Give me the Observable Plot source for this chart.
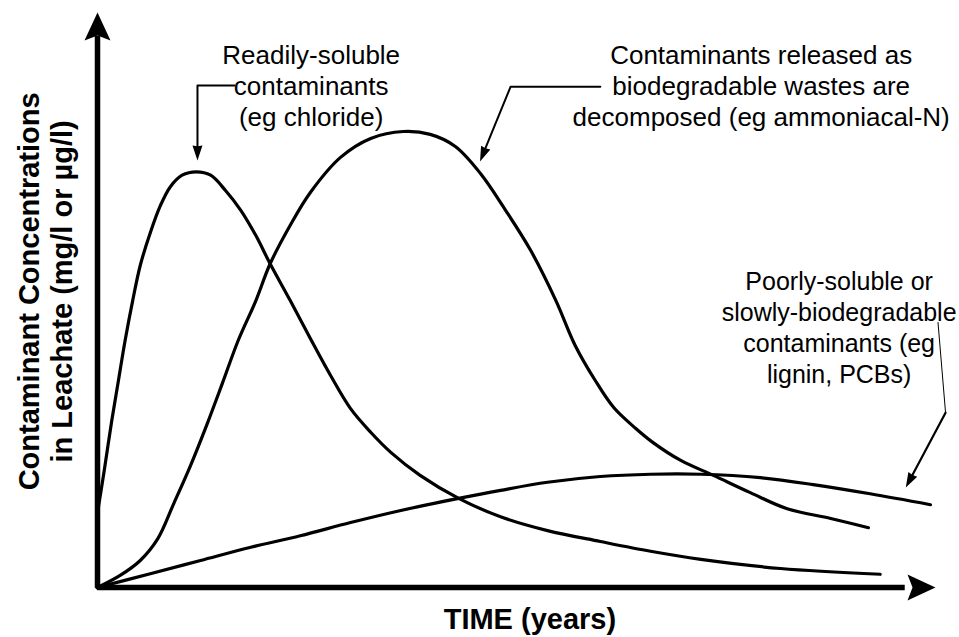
<!DOCTYPE html>
<html>
<head>
<meta charset="utf-8">
<script src="https://cdn.jsdelivr.net/npm/d3@7"></script>
<script src="https://cdn.jsdelivr.net/npm/@observablehq/plot@0.6"></script>
<style>
  html, body { margin: 0; padding: 0; background: #ffffff; }
  #chart svg { display: block; }
</style>
</head>
<body>
<div id="chart"></div>
<script>
// ---- Data (time and concentration in arbitrary units, 0–100) ----
const seriesNames = ["chloride", "ammoniacal", "lignin"];

const timeChloride = [0, 0.8, 1.7, 2.5, 3.3, 4.2, 5.1, 6.3, 7.5, 8.7, 10.1, 11.8, 13.5, 15.3, 17.1, 18.9, 20.6, 23.0, 25.4, 27.8, 30.2, 32.6, 35.0, 38.5, 43.1, 48.1, 53.7, 60.0, 66.0, 72.0, 81.5, 93.4];
const concChloride = [13.0, 20.3, 29.0, 36.0, 43.0, 49.9, 56.0, 61.7, 66.4, 69.7, 71.7, 72.3, 71.7, 69.0, 65.6, 61.2, 56.3, 49.9, 43.3, 36.9, 31.1, 27.0, 23.5, 19.5, 15.5, 12.3, 9.9, 8.0, 6.3, 4.9, 3.3, 2.3];

const timeAmmoniacal = [0, 2.7, 5.1, 7.2, 9.1, 11.1, 13.1, 14.9, 16.8, 18.9, 20.6, 23.0, 25.4, 29.0, 32.6, 36.5, 39.7, 42.7, 45.7, 48.7, 51.7, 54.7, 57.0, 59.4, 61.6, 64.2, 66.3, 69.6, 73.5, 77.9, 82.3, 87.5, 92.0];
const concAmmoniacal = [0, 2.1, 4.7, 8.5, 14.6, 21.2, 28.5, 35.5, 43.0, 49.9, 56.3, 63.0, 68.7, 74.8, 78.1, 79.3, 78.8, 76.7, 72.0, 65.6, 58.6, 49.9, 42.1, 36.0, 31.3, 27.7, 25.2, 22.1, 19.5, 16.5, 13.7, 12.0, 10.4];

const timeLignin = [0, 6.3, 12.3, 18.3, 24.2, 30.2, 36.2, 43.1, 48.1, 53.7, 60.0, 66.0, 72.0, 79.1, 85.4, 92.2, 99.4];
const concLignin = [0, 2.4, 4.7, 7.0, 9.0, 11.3, 13.4, 15.5, 16.9, 18.3, 19.3, 19.7, 19.7, 19.1, 17.9, 16.3, 14.4];

// ---- Text ----
const labelChloride = "Readily-soluble\ncontaminants\n(eg chloride)";
const labelAmmoniacal = "Contaminants released as\nbiodegradable wastes are\ndecomposed (eg ammoniacal-N)";
const labelLignin = "Poorly-soluble or\nslowly-biodegradable\ncontaminants (eg\nlignin, PCBs)";
const xTitle = "TIME (years)";
const yTitle = "Contaminant Concentrations\nin Leachate (mg/l or µg/l)";

// ---- Annotation anchors (data units) ----
const annTextX = [25.5, 79.2];
const annTextY = [94.9, 94.9];
const ligninTextX = 88.5, ligninTextY = 55.6;
const leaderChlorideX = [16.35, 11.93, 11.93];
const leaderChlorideY = [87.3, 87.3, 76.0];
const leaderAmmoniacalX = [60.0, 49.3, 46.1];
const leaderAmmoniacalY = [87.1, 87.1, 75.7];
const leaderLigninThinX = [100.3, 101.2];
const leaderLigninThinY = [46.1, 30.4];
const leaderLigninX = [101.2, 96.9];
const leaderLigninY = [30.4, 18.6];

// ---- Build tables ----
const W = 959, H = 637, mL = 97, mR = 24, mT = 12, mB = 50;
const kx = (W - mL - mR) / 100, ky = (H - mT - mB) / 100;

const curves = [
  [timeChloride, concChloride],
  [timeAmmoniacal, concAmmoniacal],
  [timeLignin, concLignin]
].flatMap(([t, c], i) => t.map((tt, j) => ({name: seriesNames[i], t: tt, c: c[j]})));

const pts = (xs, ys) => xs.map((x, i) => ({x, y: ys[i]}));
const dirDeg = (a, b) => Math.atan2((b.x - a.x) * kx, (b.y - a.y) * ky) * 180 / Math.PI;

const axisPath = pts([0, 0, 96], [95.5, 0, 0]);
const axisHeads = [{x: 0, y: 100, rot: 0}, {x: 100, y: 0, rot: 90}];

const lc = pts(leaderChlorideX, leaderChlorideY);
const la = pts(leaderAmmoniacalX, leaderAmmoniacalY);
const llThin = pts(leaderLigninThinX, leaderLigninThinY);
const ll = pts(leaderLigninX, leaderLigninY);

function tip(a, b, px) {
  const sx = (b.x - a.x) * kx, sy = (b.y - a.y) * ky;
  const L = Math.hypot(sx, sy);
  return {x: b.x + sx / L * px / kx, y: b.y + sy / L * px / ky, rot: dirDeg(a, b)};
}
const leaderHeads = [
  tip(lc[1], lc[2], 10),
  tip(la[1], la[2], 10),
  tip(ll[0], ll[1], 8)
];

// arrowhead shapes for the vector mark
const barbed = (notch) => ({
  draw(context, l, r) {
    context.moveTo(0, -l);
    context.lineTo(r, 0);
    context.lineTo(0, -l * notch);
    context.lineTo(-r, 0);
    context.closePath();
  }
});

const texts = [labelChloride, labelAmmoniacal].map((s, i) => ({x: annTextX[i], y: annTextY[i], s}));

const chart = Plot.plot({
  width: W, height: H,
  marginLeft: mL, marginRight: mR, marginTop: mT, marginBottom: mB,
  x: {domain: [0, 100], axis: null},
  y: {domain: [0, 100], axis: null},
  style: {fontFamily: "'Liberation Sans', Arial, Helvetica, sans-serif", background: "#ffffff", color: "#000000"},
  marks: [
    // curves
    Plot.line(curves, {x: "t", y: "c", z: "name", curve: "catmull-rom", stroke: "#000", strokeWidth: 3.2}),
    // axes
    Plot.line(axisPath, {x: "x", y: "y", stroke: "#000", strokeWidth: 5.5, strokeLinejoin: "miter", strokeLinecap: "square"}),
    Plot.vector(axisHeads, {x: "x", y: "y", rotate: "rot", length: 28, r: 13, shape: barbed(0.18), anchor: "end", fill: "#000", stroke: "none"}),
    // leaders
    Plot.line(lc, {x: "x", y: "y", stroke: "#000", strokeWidth: 2}),
    Plot.line(la, {x: "x", y: "y", stroke: "#000", strokeWidth: 2}),
    Plot.line(llThin, {x: "x", y: "y", stroke: "#000", strokeWidth: 1}),
    Plot.line(ll, {x: "x", y: "y", stroke: "#000", strokeWidth: 2.2}),
    Plot.vector(leaderHeads, {x: "x", y: "y", rotate: "rot", length: 15, r: 5, shape: barbed(0.05), anchor: "end", fill: "#000", stroke: "none"}),
    // annotation text
    Plot.text(texts, {x: "x", y: "y", text: "s", textAnchor: "middle", lineAnchor: "top", lineHeight: 1.19, fontSize: 26, fill: "#000"}),
    Plot.text([labelLignin], {x: ligninTextX, y: ligninTextY, textAnchor: "middle", lineAnchor: "top", lineHeight: 1.24, fontSize: 25, fill: "#000"}),
    // axis titles
    Plot.text([xTitle], {x: 51.6, frameAnchor: "bottom", dy: 32, textAnchor: "middle", lineAnchor: "middle", fontSize: 29, fontWeight: "bold", fill: "#000"}),
    Plot.text([yTitle], {y: 51.5, frameAnchor: "left", dx: -53, rotate: -90, textAnchor: "middle", lineAnchor: "middle", lineHeight: 1.14, fontSize: 29, fontWeight: "bold", fill: "#000"})
  ]
});
document.getElementById("chart").appendChild(chart);
</script>
</body>
</html>
